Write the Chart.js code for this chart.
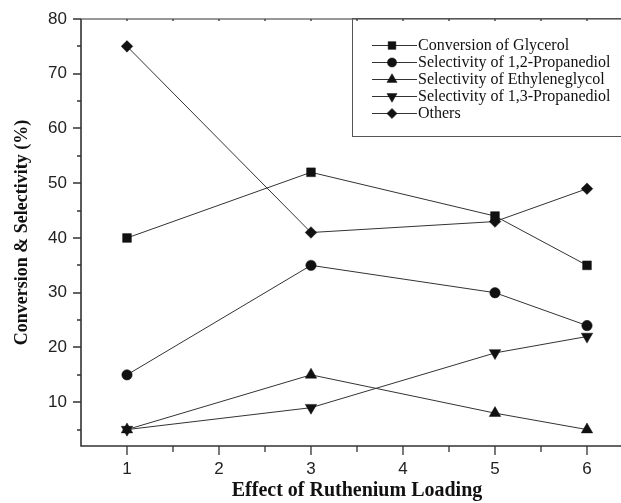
<!DOCTYPE html>
<html><head><meta charset="utf-8">
<script src="https://cdn.jsdelivr.net/npm/chart.js@4/dist/chart.umd.min.js"></script>
<style>
html,body{margin:0;padding:0;background:#fff;overflow:hidden;width:621px;height:503px}
#wrap{position:absolute;left:0;top:0;width:640px;height:503px}
</style></head><body><div id="wrap"><canvas id="c" width="640" height="503"></canvas></div>
<script>
// ---- data ----
const loadings = [1, 3, 5, 6];
const conversionGlycerol = [40, 52, 44, 35];
const selPropanediol12 = [15, 35, 30, 24];
const selEthyleneglycol = [5, 15, 8, 5];
const selPropanediol13 = [5, 9, 19, 22];
const others = [75, 41, 43, 49];
const seriesLabels = ['Conversion of Glycerol', 'Selectivity of 1,2-Propanediol', 'Selectivity of Ethyleneglycol', 'Selectivity of 1,3-Propanediol', 'Others'];
const xTickValues = [1, 1.5, 2, 2.5, 3, 3.5, 4, 4.5, 5, 5.5, 6];
const yTickValues = [5, 10, 15, 20, 25, 30, 35, 40, 45, 50, 55, 60, 65, 70, 75, 80];
const xTitle = 'Effect of Ruthenium Loading';
const yTitle = 'Conversion & Selectivity (%)';

const seriesValues = [conversionGlycerol, selPropanediol12, selEthyleneglycol, selPropanediol13, others];
const styles = [
  {pointStyle: 'rect', radius: 6.2, rotation: 0},
  {pointStyle: 'circle', radius: 5.2, rotation: 0},
  {pointStyle: 'triangle', radius: 6.6, rotation: 0},
  {pointStyle: 'triangle', radius: 6.6, rotation: 180},
  {pointStyle: 'rectRot', radius: 5.8, rotation: 0}
];

const datasets = seriesValues.map((vals, i) => ({
  label: seriesLabels[i],
  data: vals.map((v, j) => ({x: loadings[j], y: v})),
  borderColor: '#333',
  borderWidth: 1,
  backgroundColor: '#111',
  pointBackgroundColor: '#111',
  pointBorderColor: '#111',
  pointBorderWidth: 0.5,
  pointStyle: styles[i].pointStyle,
  pointRadius: styles[i].radius,
  pointRotation: styles[i].rotation,
  tension: 0,
  fill: false
}));

const axisPlugin = {
  id: 'axisPlugin',
  afterDraw(chart) {
    const ctx = chart.ctx;
    const xs = chart.scales.x, ys = chart.scales.y;
    const L = chart.chartArea.left, R = chart.chartArea.right, T = chart.chartArea.top, B = chart.chartArea.bottom;
    ctx.save();
    ctx.strokeStyle = '#333';
    ctx.lineWidth = 1.6;
    ctx.beginPath();
    ctx.moveTo(L, T); ctx.lineTo(L, B + 0.8);
    ctx.moveTo(L - 0.8, B); ctx.lineTo(R, B);
    ctx.stroke();
    ctx.lineWidth = 1.2;
    ctx.beginPath();
    ctx.moveTo(L, T); ctx.lineTo(R, T); ctx.lineTo(R, B);
    ctx.stroke();
    ctx.lineWidth = 1.3;
    ctx.beginPath();
    yTickValues.forEach(v => {
      const p = Math.round(ys.getPixelForValue(v));
      const len = v % 10 === 0 ? 8 : 4;
      ctx.moveTo(L, p); ctx.lineTo(L - len, p);
    });
    xTickValues.forEach(v => {
      const p = Math.round(xs.getPixelForValue(v));
      const len = Number.isInteger(v) ? 9 : 6;
      ctx.moveTo(p, B); ctx.lineTo(p, B + len);
      ctx.moveTo(p, T); ctx.lineTo(p, T + 2);
    });
    ctx.stroke();

    // legend
    const bx = 352, by = 18, bw = 300, bh = 118;
    ctx.lineWidth = 1;
    ctx.strokeStyle = '#555';
    ctx.strokeRect(bx + 0.5, by + 0.5, bw, bh);
    ctx.font = '16px "Liberation Serif", "Times New Roman", serif';
    ctx.textBaseline = 'middle';
    ctx.textAlign = 'left';
    chart.data.datasets.forEach((ds, i) => {
      const y = 45 + i * 17;
      ctx.strokeStyle = '#333';
      ctx.lineWidth = 1;
      ctx.beginPath();
      ctx.moveTo(372, y + 0.5); ctx.lineTo(417, y + 0.5);
      ctx.stroke();
      ctx.fillStyle = '#111';
      ctx.strokeStyle = '#111';
      ctx.lineWidth = 0.5;
      Chart.helpers.drawPoint(ctx, {pointStyle: ds.pointStyle, radius: ds.pointRadius * 0.88, rotation: ds.pointRotation, borderWidth: 0.5}, 392, y + 0.5);
      ctx.fillStyle = '#111';
      ctx.fillText(ds.label, 418, y + 1);
    });
    ctx.restore();
  }
};

new Chart(document.getElementById('c'), {
  type: 'line',
  data: {datasets},
  options: {
    responsive: false,
    devicePixelRatio: 1,
    animation: false,
    layout: {autoPadding: false, padding: {left: 9, top: 19, right: 7, bottom: 0}},
    plugins: {legend: {display: false}, tooltip: {enabled: false}},
    scales: {
      x: {
        type: 'linear', min: 0.5, max: 6.5,
        afterBuildTicks: s => { s.ticks = xTickValues.map(v => ({value: v})); },
        afterFit: s => { s.height = 57; },
        grid: {display: true, drawOnChartArea: false, color: 'rgba(0,0,0,0)', tickLength: 9},
        border: {display: false},
        ticks: {
          autoSkip: false, maxRotation: 0, padding: 4, color: '#222',
          font: {family: '"Liberation Sans", Arial, sans-serif', size: 17},
          callback: v => Number.isInteger(v) ? String(v) : ''
        },
        title: {display: true, text: xTitle, color: '#111', padding: {top: 0, bottom: 0},
          font: {family: '"Liberation Serif", "Times New Roman", serif', size: 20, weight: 'bold'}}
      },
      y: {
        type: 'linear', min: 2, max: 80,
        afterBuildTicks: s => { s.ticks = yTickValues.map(v => ({value: v})); },
        afterFit: s => { s.width = 72; },
        grid: {display: true, drawOnChartArea: false, color: 'rgba(0,0,0,0)', tickLength: 8},
        border: {display: false},
        ticks: {
          autoSkip: false, padding: 6, color: '#222',
          font: {family: '"Liberation Sans", Arial, sans-serif', size: 17},
          callback: v => v % 10 === 0 ? String(v) : ''
        },
        title: {display: true, text: yTitle, color: '#111', padding: {top: 3, bottom: 0},
          font: {family: '"Liberation Serif", "Times New Roman", serif', size: 18, weight: 'bold'}}
      }
    }
  },
  plugins: [axisPlugin]
});
</script>
</body></html>
